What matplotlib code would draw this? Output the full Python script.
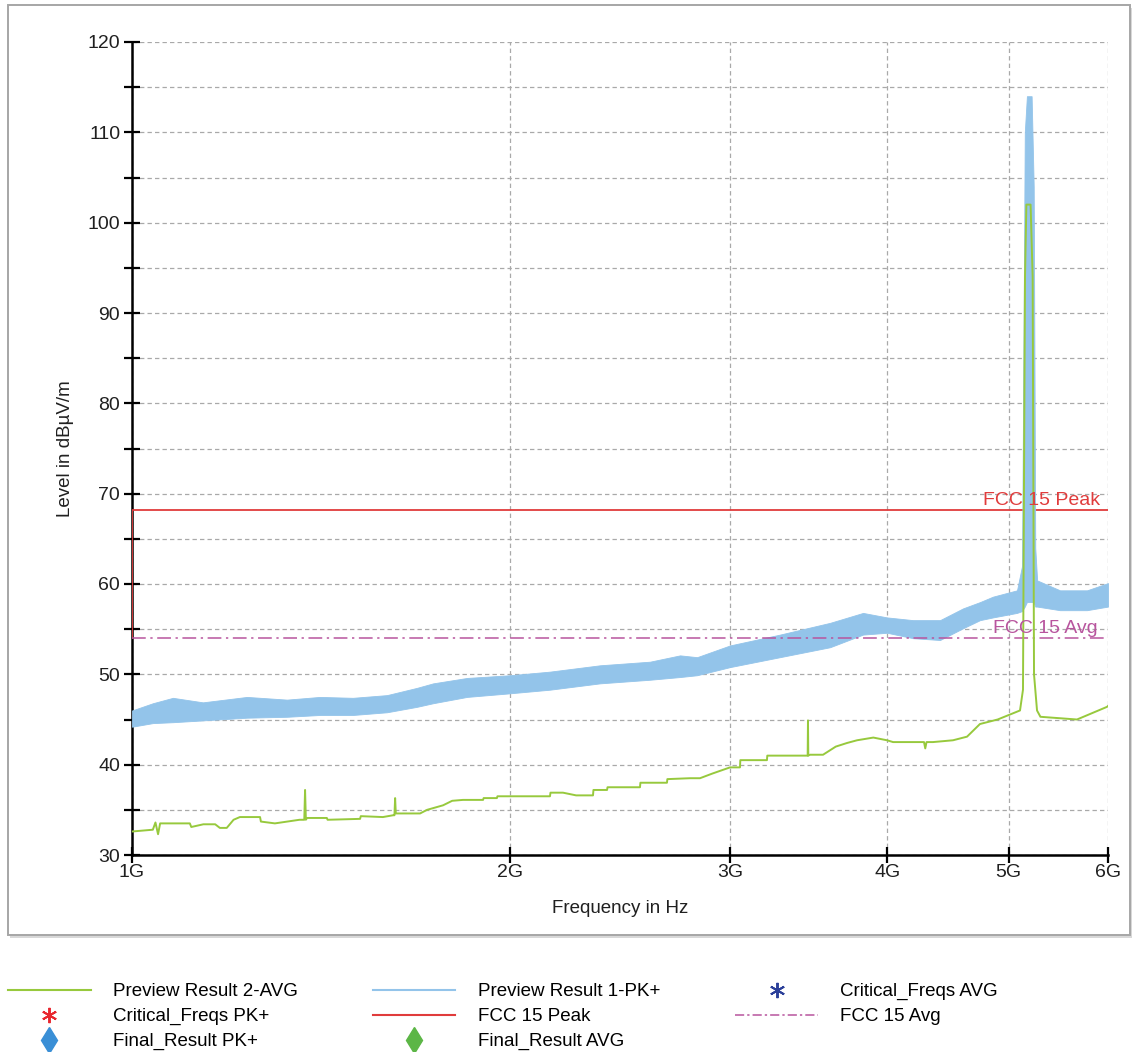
import matplotlib
matplotlib.use("Agg")
import matplotlib.pyplot as plt
from matplotlib.patches import Rectangle
from matplotlib.lines import Line2D
from matplotlib.ticker import FixedLocator, FixedFormatter, NullLocator

plt.rcParams['font.family'] = ['Liberation Sans', 'DejaVu Sans']

W, H = 1136, 1052

label_font = {'color': '#202020', 'size': 13.5}
tick_size = 14

colors = {
    'pk': '#93c4ea',
    'avg': '#97c93d',
    'peak_lim': '#e03c3c',
    'avg_lim': '#b8559e',
    'crit_pk': '#e8262e',
    'crit_avg': '#2b3f99',
    'final_pk': '#3a8fd6',
    'final_avg': '#5cb646',
}

# Preview Result 1-PK+ : band (GHz, dBuV/m)
pk_freq = [1.000, 1.039, 1.078, 1.139, 1.235, 1.329, 1.412, 1.500, 1.597, 1.687,
           1.738, 1.850, 2.002, 2.154, 2.361, 2.588, 2.735, 2.822, 2.998, 3.286,
           3.602, 3.827, 4.000, 4.195, 4.408, 4.598, 4.744, 4.858, 5.077, 5.124,
           5.150, 5.170, 5.215, 5.235, 5.250, 5.268, 5.494, 5.773, 6.000]
pk_low = [44.2, 44.6, 44.7, 44.9, 45.2, 45.3, 45.5, 45.5, 45.8, 46.4,
          46.8, 47.5, 47.9, 48.3, 49.0, 49.4, 49.7, 49.9, 50.8, 51.9,
          53.0, 54.4, 54.6, 54.0, 53.8, 55.1, 56.0, 56.3, 56.8, 57.0,
          57.5, 58.0, 58.0, 58.0, 57.5, 57.5, 57.1, 57.1, 57.5]
pk_high = [46.0, 46.8, 47.4, 46.9, 47.5, 47.2, 47.5, 47.4, 47.7, 48.5,
           49.0, 49.6, 49.9, 50.3, 51.0, 51.4, 52.1, 51.9, 53.2, 54.4,
           55.7, 56.8, 56.3, 56.0, 56.0, 57.3, 58.0, 58.6, 59.3, 62.0,
           110.0, 114.0, 114.0, 104.0, 64.0, 60.4, 59.3, 59.3, 60.1]

# Preview Result 2-AVG : stepped trace (GHz, dBuV/m)
avg_freq = [1.000, 1.039, 1.044, 1.049, 1.053, 1.112, 1.115, 1.140, 1.165, 1.175,
            1.190, 1.205, 1.219, 1.265, 1.267, 1.300, 1.360, 1.372, 1.374, 1.376,
            1.379, 1.430, 1.432, 1.520, 1.522, 1.585, 1.615, 1.619, 1.621, 1.623,
            1.697, 1.719, 1.770, 1.800, 1.836, 1.905, 1.907, 1.954, 1.956, 2.154,
            2.156, 2.206, 2.260, 2.331, 2.333, 2.392, 2.394, 2.541, 2.543, 2.670,
            2.672, 2.785, 2.837, 2.900, 2.998, 3.053, 3.055, 3.208, 3.210, 3.457,
            3.459, 3.461, 3.472, 3.556, 3.640, 3.716, 3.785, 3.900, 3.999, 4.044,
            4.280, 4.290, 4.300, 4.351, 4.514, 4.632, 4.743, 4.900, 5.105, 5.133,
            5.152, 5.165, 5.205, 5.225, 5.238, 5.267, 5.300, 5.668, 5.989, 6.000]
avg_level = [32.6, 32.8, 33.6, 32.3, 33.5, 33.5, 33.1, 33.4, 33.4, 33.0,
             33.0, 33.9, 34.2, 34.2, 33.7, 33.5, 33.9, 33.9, 37.2, 33.9,
             34.1, 34.1, 33.9, 34.0, 34.3, 34.2, 34.4, 34.4, 36.3, 34.6,
             34.6, 35.0, 35.5, 36.0, 36.1, 36.1, 36.3, 36.3, 36.5, 36.5,
             36.9, 36.9, 36.6, 36.6, 37.2, 37.2, 37.5, 37.5, 38.0, 38.0,
             38.4, 38.5, 38.5, 39.0, 39.7, 39.7, 40.5, 40.5, 41.0, 41.0,
             44.9, 41.0, 41.1, 41.1, 42.0, 42.4, 42.7, 43.0, 42.7, 42.5,
             42.5, 41.8, 42.5, 42.5, 42.7, 43.1, 44.5, 45.0, 46.0, 48.3,
             94.0, 102.0, 102.0, 94.0, 50.0, 46.0, 45.3, 45.0, 46.4, 46.5]

# limit lines
peak_lim_freq = [1.0, 1.0, 6.0]
peak_lim_level = [54.0, 68.2, 68.2]
avg_lim_freq = [1.0, 6.0]
avg_lim_level = [54.0, 54.0]

x_ticks = [1, 2, 3, 4, 5, 6]
x_labels = ["1G", "2G", "3G", "4G", "5G", "6G"]
y_ticks = [30, 40, 50, 60, 70, 80, 90, 100, 110, 120]
y_minor = [35, 45, 55, 65, 75, 85, 95, 105, 115]

legend_labels = ["Preview Result 2-AVG", "Critical_Freqs PK+", "Final_Result PK+",
                 "Preview Result 1-PK+", "FCC 15 Peak", "Final_Result AVG",
                 "Critical_Freqs AVG", "FCC 15 Avg"]


def px(x0, y0, w, h):
    return [x0 / W, 1 - (y0 + h) / H, w / W, h / H]


def draw_chart(fig):
    ax = fig.add_axes(px(132, 42, 976, 813))
    ax.patch.set_alpha(0)

    ax.set_xscale('log')
    ax.set_xlim(1, 6)
    ax.set_ylim(30, 120)

    ax.xaxis.set_major_locator(FixedLocator(x_ticks))
    ax.xaxis.set_major_formatter(FixedFormatter(x_labels))
    ax.xaxis.set_minor_locator(NullLocator())
    ax.yaxis.set_major_locator(FixedLocator(y_ticks))
    ax.yaxis.set_minor_locator(FixedLocator(y_minor))

    grid_kw = dict(color='#a9a9a9', linestyle=(0, (3.5, 2.5)), linewidth=0.9)
    ax.grid(True, which='major', axis='x', **grid_kw)
    ax.grid(True, which='both', axis='y', **grid_kw)
    ax.set_axisbelow(True)

    for s in ['top', 'right']:
        ax.spines[s].set_visible(False)
    for s in ['left', 'bottom']:
        ax.spines[s].set_linewidth(1.8)
        ax.spines[s].set_color('black')

    ax.tick_params(axis='both', which='both', direction='inout', length=11,
                   width=1.6, color='black', labelsize=tick_size, labelcolor='#202020')
    ax.tick_params(axis='x', pad=1)
    ax.tick_params(axis='y', pad=3)

    # traces
    ax.plot(peak_lim_freq, peak_lim_level, color=colors['peak_lim'], lw=1.3, zorder=2.6)
    ax.fill_between(pk_freq, pk_low, pk_high, facecolor=colors['pk'],
                    edgecolor=colors['pk'], lw=0.6, zorder=3)
    ax.plot(avg_lim_freq, avg_lim_level, color=colors['avg_lim'], lw=1.1,
            linestyle=(0, (9, 3, 1.5, 3)), zorder=3.5)
    ax.plot(avg_freq, avg_level, color=colors['avg'], lw=1.4, zorder=4)

    ax.annotate("FCC 15 Peak", xy=(0.992, peak_lim_level[-1]), xycoords=('axes fraction', 'data'),
                xytext=(0, 1), textcoords='offset points', ha='right', va='bottom',
                color=colors['peak_lim'], fontsize=tick_size, zorder=5)
    ax.annotate("FCC 15 Avg", xy=(0.989, avg_lim_level[-1]), xycoords=('axes fraction', 'data'),
                xytext=(0, 1), textcoords='offset points', ha='right', va='bottom',
                color=colors['avg_lim'], fontsize=tick_size, zorder=5)

    ax.set_xlabel("Frequency in Hz", fontdict=label_font, labelpad=14)
    ax.set_ylabel("Level in dBµV/m", fontdict=label_font, labelpad=10)
    return ax


def draw_legend(fig):
    handles = [
        Line2D([], [], color=colors['avg'], lw=1.5),
        Line2D([], [], linestyle='none', marker=(6, 2, 0), markersize=11,
               markeredgecolor=colors['crit_pk'], markeredgewidth=1.4),
        Line2D([], [], linestyle='none', marker='d', markersize=13, color=colors['final_pk']),
        Line2D([], [], color=colors['pk'], lw=1.5),
        Line2D([], [], color=colors['peak_lim'], lw=1.5),
        Line2D([], [], linestyle='none', marker='d', markersize=13, color=colors['final_avg']),
        Line2D([], [], linestyle='none', marker=(6, 2, 0), markersize=11,
               markeredgecolor=colors['crit_avg'], markeredgewidth=1.4),
        Line2D([], [], color=colors['avg_lim'], lw=1.1, linestyle=(0, (6, 2, 1.5, 2))),
    ]
    fig.legend(handles, legend_labels, loc='upper left', bbox_to_anchor=(8 / W, 1 - 983 / H),
               ncol=3, frameon=False, fontsize=13.5, handlelength=4.4, handletextpad=1.2,
               columnspacing=4.0, labelspacing=0.42, borderpad=0, borderaxespad=0,
               numpoints=1)


def main():
    fig = plt.figure(figsize=(W / 100, H / 100), dpi=100, facecolor='white')

    # framed panel around the chart, with a soft shadow
    fig.add_artist(Rectangle((10 / W, 1 - 938 / H), 1122 / W, 930 / H, transform=fig.transFigure,
                             facecolor='#d8d8d8', edgecolor='none', zorder=-3))
    fig.add_artist(Rectangle((8 / W, 1 - 935 / H), 1122 / W, 930 / H, transform=fig.transFigure,
                             facecolor='white', edgecolor='#a6a6a6', lw=1.4, zorder=-2))

    draw_chart(fig)
    draw_legend(fig)

    fig.savefig("out.png", dpi=100)


if __name__ == "__main__":
    main()
